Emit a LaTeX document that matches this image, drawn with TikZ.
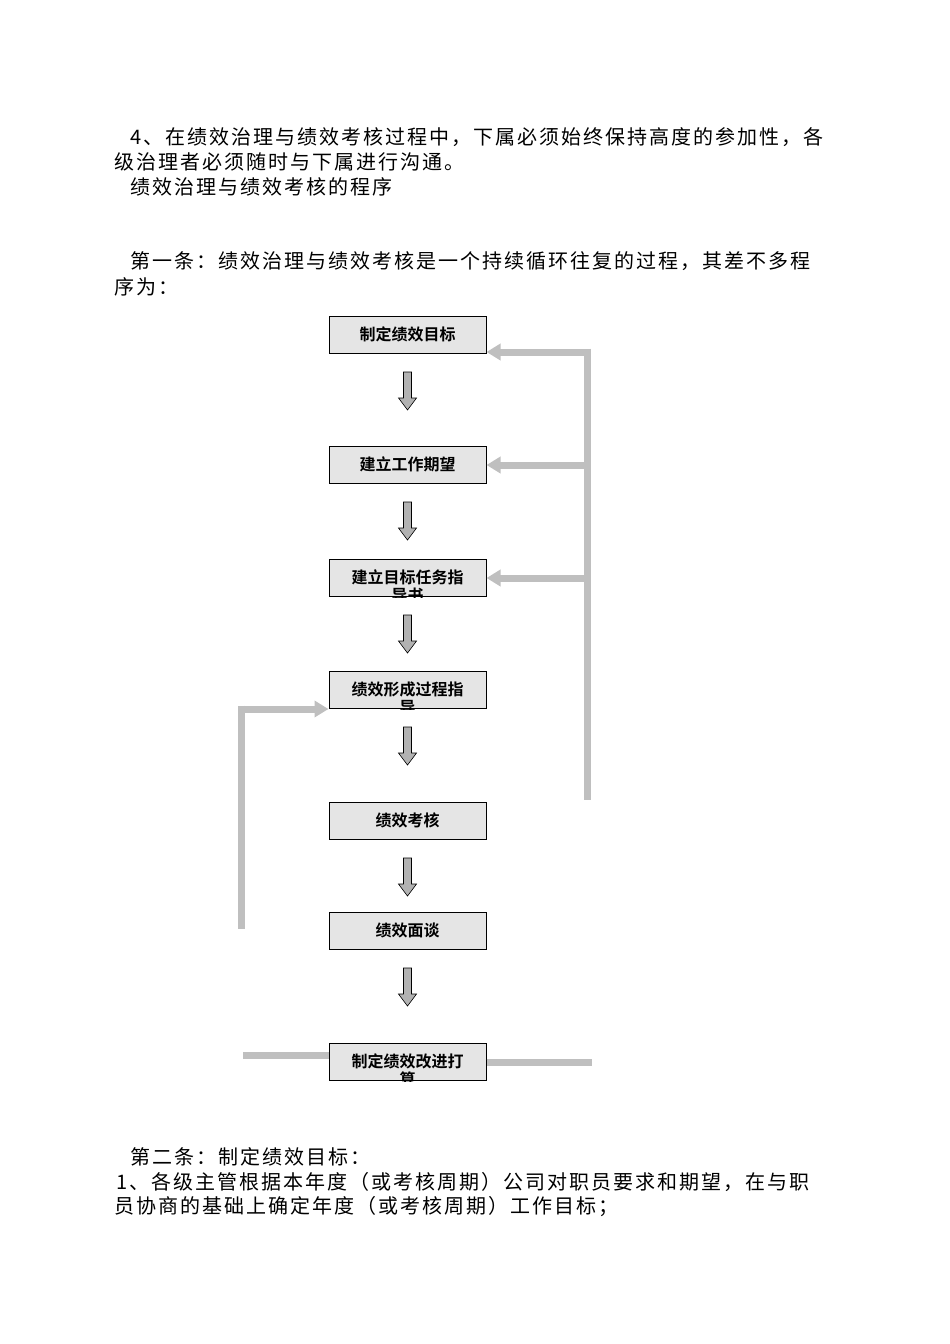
\documentclass[tikz,border=0pt]{standalone}
\usepackage{fontspec}
\usetikzlibrary{arrows.meta}
\newfontfamily\cjk[LetterSpace=10]{Noto Sans CJK SC}
\newfontfamily\cjkb{Noto Sans CJK SC Bold}
\begin{document}
\begin{tikzpicture}[x=1pt,y=-1pt,
  txt/.style={anchor=west,inner sep=0pt,font=\cjk\fontsize{20}{20}\selectfont},
  bx/.style={draw=black,fill=gray!20,line width=1pt,minimum width=157pt,minimum height=37pt,inner sep=0pt},
  bar/.style={draw=gray!50,line width=7pt},
  bararr/.style={bar,-{Triangle[length=14pt,width=16pt]}}]
\useasboundingbox (0,0) rectangle (950,1344);
\node[txt] (t1) at (130,137) {4、在绩效治理与绩效考核过程中，下属必须始终保持高度的参加性，各};
\node[txt] (t2) at (114,162) {级治理者必须随时与下属进行沟通。};
\node[txt] (t3) at (130,187) {绩效治理与绩效考核的程序};
\node[txt] (t4) at (130,261) {第一条：绩效治理与绩效考核是一个持续循环往复的过程，其差不多程};
\node[txt] (t5) at (114,287) {序为：};
\node[txt] (t6) at (130,1157) {第二条：制定绩效目标：};
\node[txt] (t7) at (116,1182) {1、各级主管根据本年度（或考核周期）公司对职员要求和期望，在与职};
\node[txt] (t8) at (114,1207) {员协商的基础上确定年度（或考核周期）工作目标；};
% bars
\coordinate (rt) at (587,352);
\coordinate (rb) at (587,800);
\draw[bar] ([yshift=3.5]rt) -- (rb);
\coordinate (lt) at (241,709);
\coordinate (lb) at (241,929);
\draw[bar] ([yshift=3.5]lt) -- (lb);
\foreach \n/\y in {b1/335,b2/465,b3/578,b4/690,b5/821,b6/931,b7/1062}{
  \node[bx] (\n) at (407.5,\y) {};
}
\draw[bararr] (rt) -- (b1.east|-rt);
\draw[bararr] (rt|-b2) -- (b2.east);
\draw[bararr] (rt|-b3) -- (b3.east);
\draw[bararr] (lt) -- (b4.south west |- lt);
\draw[bar] (243,1055) -- (b7.west|-0,1055);
\draw[bar] (b7.east|-0,1062) -- (592,1062);
% box texts, clipped
\foreach \n/\a/\b in {b1/制定绩效目标/,b2/建立工作期望/,b3/建立目标任务指/导书,b4/绩效形成过程指/导,b5/绩效考核/,b6/绩效面谈/,b7/制定绩效改进打/算}{
  \begin{scope}
  \clip (\n.south west) rectangle (\n.north east);
  \node[font=\cjkb\fontsize{16}{18}\selectfont,align=center,anchor=north] at ([yshift=-7]\n.north) {\a\\\b};
  \end{scope}
}
% down arrows
\foreach \a in {b1,b2,b3,b4,b5,b6}{
  \path (\a.south) ++(0,18) coordinate (s) ++(0,38) coordinate (e);
  \draw[fill=gray!60,line width=0.6pt] ([xshift=-4]s) -- ([xshift=4]s) -- ([xshift=4,yshift=12]e) -- ([xshift=9,yshift=12]e) -- (e) -- ([xshift=-9,yshift=12]e) -- ([xshift=-4,yshift=12]e) -- cycle;
}
\end{tikzpicture}
\end{document}
